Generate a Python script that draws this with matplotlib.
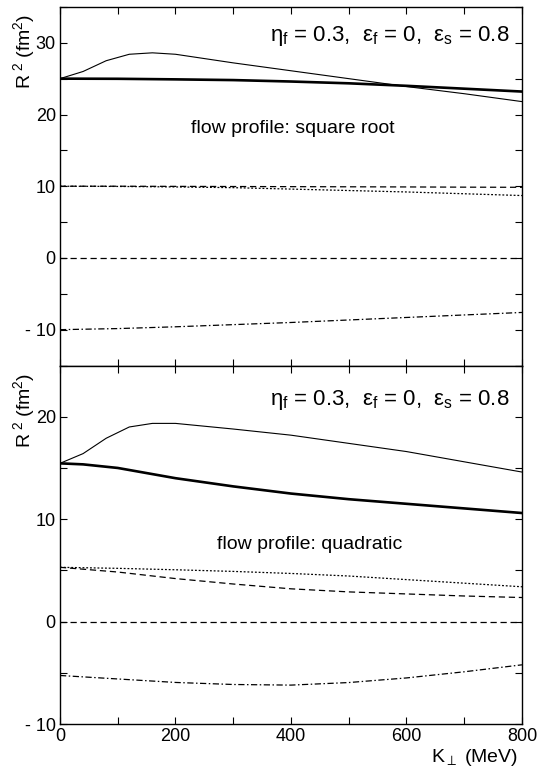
import matplotlib
matplotlib.use("Agg")
import matplotlib.pyplot as plt
from matplotlib.ticker import MultipleLocator, FuncFormatter

plt.rcParams['font.family'] = ['Liberation Sans', 'DejaVu Sans']
plt.rcParams['mathtext.fontset'] = 'custom'
plt.rcParams['mathtext.rm'] = 'Liberation Sans'
plt.rcParams['mathtext.it'] = 'Liberation Sans:italic'

# --- data (K_perp in MeV, R^2 in fm^2) ---
k_fine = [0, 40, 80, 120, 160, 200, 300, 400, 500, 600, 700, 800]
k = [0, 100, 200, 300, 400, 500, 600, 700, 800]

# square root profile
sq_thin = [25.0, 26.0, 27.5, 28.4, 28.6, 28.4, 27.2, 26.1, 25.0, 23.9, 22.9, 21.8]
sq_thick = [25.0, 24.98, 24.9, 24.8, 24.6, 24.35, 24.0, 23.6, 23.2]
sq_dash = [10.0, 10.0, 9.98, 9.96, 9.94, 9.92, 9.9, 9.87, 9.85]
sq_dot = [10.0, 9.97, 9.9, 9.8, 9.6, 9.4, 9.2, 8.95, 8.7]
sq_zero = [0, 0, 0, 0, 0, 0, 0, 0, 0]
sq_dashdot = [-10.0, -9.85, -9.6, -9.3, -9.0, -8.65, -8.3, -7.95, -7.6]

# quadratic profile
k_thick2 = [0, 40, 100, 200, 300, 400, 500, 600, 700, 800]
qu_thin = [15.45, 16.4, 17.9, 19.0, 19.35, 19.35, 18.8, 18.2, 17.4, 16.6, 15.6, 14.6]
qu_thick = [15.45, 15.35, 15.0, 14.0, 13.2, 12.5, 11.95, 11.5, 11.05, 10.6]
qu_dot = [5.3, 5.2, 5.06, 4.9, 4.7, 4.45, 4.1, 3.75, 3.4]
qu_dash = [5.3, 4.84, 4.2, 3.67, 3.2, 2.9, 2.7, 2.5, 2.35]
qu_zero = [0, 0, 0, 0, 0, 0, 0, 0, 0]
qu_dashdot = [-5.26, -5.6, -5.94, -6.14, -6.2, -5.95, -5.5, -4.9, -4.22]

params = "η$_\\mathregular{f}$ = 0.3,  ε$_\\mathregular{f}$ = 0,  ε$_\\mathregular{s}$ = 0.8"
ylab = "R$^{\\ 2}$ (fm$^2$)"


def minus_fmt(v, pos):
    if v < 0:
        return "- %d" % abs(v)
    return "%d" % v


fig = plt.figure(figsize=(5.37, 7.7), dpi=100)
ax1 = fig.add_axes([0.1117, 0.5253, 0.8603, 0.4657])
ax2 = fig.add_axes([0.1117, 0.0597, 0.8603, 0.4656])

dash = (0, (5, 3))
dot = (0, (1.5, 1.5))
dashdot = (0, (5, 2, 1.2, 2))

ax1.plot(k_fine, sq_thin, color='black', lw=0.8)
ax1.plot(k, sq_thick, color='black', lw=1.9)
ax1.plot(k, sq_dash, color='black', lw=0.9, linestyle=dash)
ax1.plot(k, sq_dot, color='black', lw=0.9, linestyle=dot)
ax1.plot(k, sq_zero, color='black', lw=0.9, linestyle=dash)
ax1.plot(k, sq_dashdot, color='black', lw=0.9, linestyle=dashdot)

ax2.plot(k_fine, qu_thin, color='black', lw=0.8)
ax2.plot(k_thick2, qu_thick, color='black', lw=1.9)
ax2.plot(k, qu_dot, color='black', lw=0.9, linestyle=dot)
ax2.plot(k, qu_dash, color='black', lw=0.9, linestyle=dash)
ax2.plot(k, qu_zero, color='black', lw=0.9, linestyle=dash)
ax2.plot(k, qu_dashdot, color='black', lw=0.9, linestyle=dashdot)

ax1.set_ylim(-15, 35)
ax2.set_ylim(-10, 25)

for ax in (ax1, ax2):
    ax.set_xlim(0, 800)
    ax.xaxis.set_major_locator(MultipleLocator(200))
    ax.xaxis.set_minor_locator(MultipleLocator(100))
    ax.yaxis.set_major_locator(MultipleLocator(10))
    ax.yaxis.set_minor_locator(MultipleLocator(5))
    ax.yaxis.set_major_formatter(FuncFormatter(minus_fmt))
    ax.tick_params(which='both', direction='in', top=True, right=True,
                   width=0.8, labelsize=13)
    ax.tick_params(which='major', length=5, pad=3)
    ax.tick_params(which='minor', length=5)
    for s in ax.spines.values():
        s.set_linewidth(1.0)
    ax.text(-0.078, 0.875, ylab, transform=ax.transAxes, rotation=90,
            ha='center', va='center', fontsize=14)

ax1.text(0.974, 0.906, params, transform=ax1.transAxes, ha='right',
         va='baseline', fontsize=16)
ax2.text(0.974, 0.890, params, transform=ax2.transAxes, ha='right',
         va='baseline', fontsize=16)
ax1.tick_params(labelbottom=False)

ax1.text(0.504, 0.6485, "flow profile: square root", transform=ax1.transAxes,
         ha='center', va='baseline', fontsize=14)
ax2.text(0.540, 0.488, "flow profile: quadratic", transform=ax2.transAxes,
         ha='center', va='baseline', fontsize=14)

ax2.xaxis.set_major_formatter(FuncFormatter(lambda v, p: "%d" % v))
fig.canvas.draw()
labs = ax2.get_xticklabels()
labs[0].set_ha('left')
labs[-1].set_ha('right')

fig.text(518 / 537, 1 - 762 / 770, "K$_\\perp$ (MeV)", ha='right',
         va='baseline', fontsize=14)

fig.savefig("out.png", dpi=100)
